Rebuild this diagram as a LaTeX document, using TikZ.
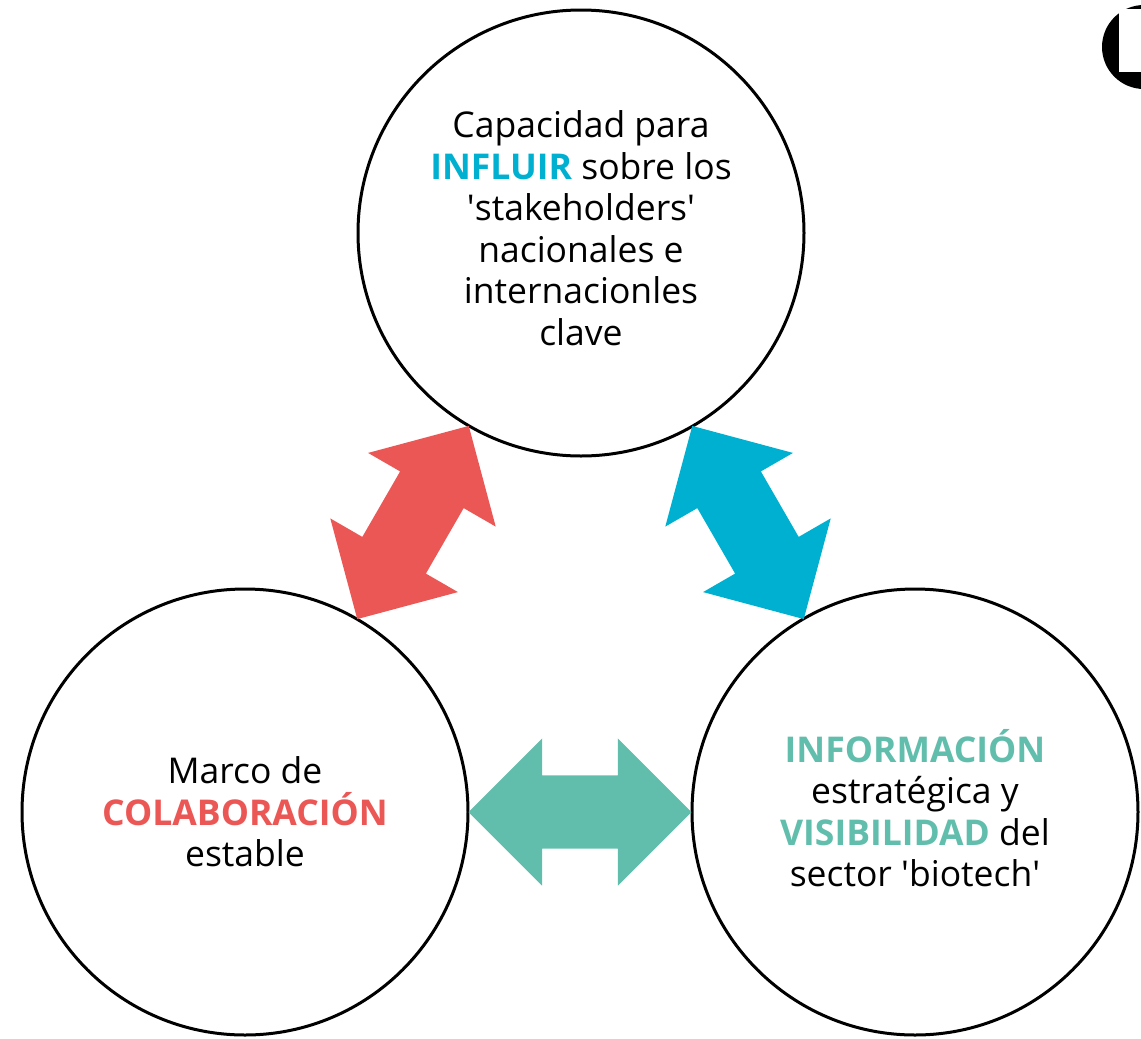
\documentclass[tikz,border=0pt]{standalone}
\usepackage{fontspec}
\setmainfont{Open Sans}
\usetikzlibrary{shapes.arrows,calc}

\definecolor{coralred}{RGB}{235,87,85}
\definecolor{tealblue}{RGB}{0,176,208}
\definecolor{seagreen}{RGB}{98,190,172}

\begin{document}
\begin{tikzpicture}[x=1pt, y=-1pt]

    % let's define some key values
    \def\rad{446pt}
    \def\q{\textquotesingle}
    \coordinate (ctop) at (581,233);
    \coordinate (cleft) at (245,812);
    \coordinate (cright) at (915,812);

    % Styles
    \tikzstyle{bubble}=[circle, draw, line width=3pt, minimum size=\rad, inner sep=0pt,
        align=center, font=\fontsize{35.5}{41.5}\selectfont]
    \tikzstyle{twoway}=[double arrow, minimum height=223pt, inner sep=0pt, inner ysep=36.5pt,
        double arrow head extend=37pt, double arrow tip angle=90]

    \useasboundingbox (0,0) rectangle (1141,1039);

    % circles
    \node [bubble] (top) at (ctop) {Capacidad para\\
        {\bfseries\color{tealblue}INFLUIR} sobre los\\
        \q stakeholders\q\\ nacionales e\\ internacionles\\ clave\\[-31.5pt]};
    \node [bubble] (left) at (cleft) {Marco de\\
        {\bfseries\color{coralred}COLABORACIÓN}\\ estable};
    \node [bubble] (right) at (cright) {{\bfseries\color{seagreen}INFORMACIÓN}\\
        estratégica y\\ {\bfseries\color{seagreen}VISIBILIDAD} del\\
        sector \q biotech\q\\[-33.5pt]};

    % arrows between the circles
    \node [twoway, fill=coralred, rotate=60] (lt) at ($(left.center)!0.5!(top.center)$) {};
    \node [twoway, fill=tealblue, rotate=-60] (tr) at ($(top.center)!0.5!(right.center)$) {};
    \node [twoway, fill=seagreen] (lr) at ($(left.center)!0.5!(right.center)$) {};

    % logo corner
    \fill (1144,47) circle (42);
    \fill [white] (1119,9) rectangle (1141,72);

\end{tikzpicture}
\end{document}
